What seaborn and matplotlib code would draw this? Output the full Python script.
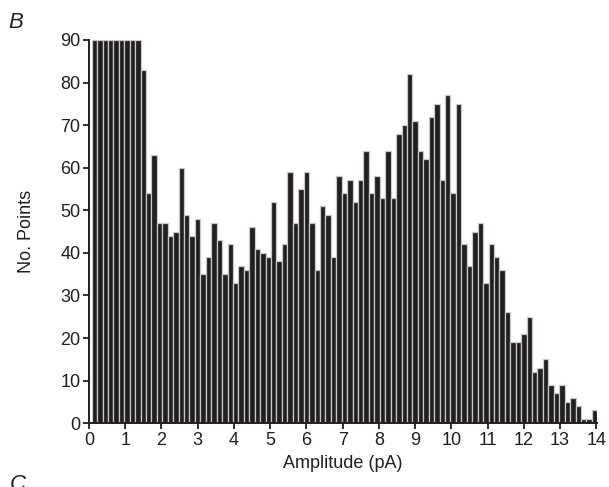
import numpy as np
import pandas as pd
import matplotlib
matplotlib.use("Agg")
import matplotlib.pyplot as plt
import seaborn as sns

# bin width and counts (first bars are clipped at 90)
bin_width = 0.15
counts = [90, 90, 90, 90, 90, 90, 90, 90, 90,
          83, 54, 63, 47, 47, 44, 45,
          60, 49, 44, 48, 35, 39, 47, 43, 35, 42, 33, 37, 36, 46, 41, 40, 39, 52, 38,
          42, 59, 47, 55, 59, 47, 36, 51, 49, 39, 58, 54, 57, 52, 57, 64, 54, 58,
          53, 64, 53, 68, 70, 82, 71,
          64, 62, 72, 75, 57, 77, 54, 75, 42, 37, 45, 47, 33, 42, 39, 36, 26, 19,
          19, 21, 25, 12, 13, 15, 9, 7, 9, 5, 6, 4, 1, 1, 3]
x_ticks = list(range(0, 15))
y_ticks = list(range(0, 91, 10))

centers = bin_width * (np.arange(len(counts)) + 1)
data = pd.DataFrame({"amp": centers, "n": counts})
lo = centers[0] - bin_width / 2
hi = centers[-1] + bin_width / 2

sns.set_style("ticks")
plt.rcParams['font.family'] = ['Liberation Sans', 'DejaVu Sans']

fig = plt.figure(figsize=(6.09, 4.87), dpi=100)
ax = fig.add_axes([0.146, 0.131, 0.835, 0.787])

sns.histplot(data=data, x="amp", weights="n", binwidth=bin_width, binrange=(lo, hi),
             ax=ax, color="#231f20", edgecolor="#c8c8c8", linewidth=0.9, alpha=1)

ax.set_xlim(0, 14.03)
ax.set_ylim(0, 90)
ax.set_xticks(x_ticks)
ax.set_yticks(y_ticks)
ax.set_xlabel("Amplitude (pA)", fontsize=13, labelpad=5, color="#231f20")
ax.set_ylabel("No. Points", fontsize=13, labelpad=18, color="#231f20")
ax.tick_params(axis="both", labelsize=13, width=1.3, length=4, color="#231f20",
               labelcolor="#231f20", pad=2)
for side in ["top", "right"]:
    ax.spines[side].set_visible(False)
for side in ["left", "bottom"]:
    ax.spines[side].set_linewidth(1.4)
    ax.spines[side].set_color("#231f20")

fig.text(0.014, 0.942, "B", fontsize=16, style="italic", color="#231f20")
fig.text(0.016, -0.006, "C", fontsize=16, style="italic", color="#231f20")

fig.savefig("out.png", dpi=100)
